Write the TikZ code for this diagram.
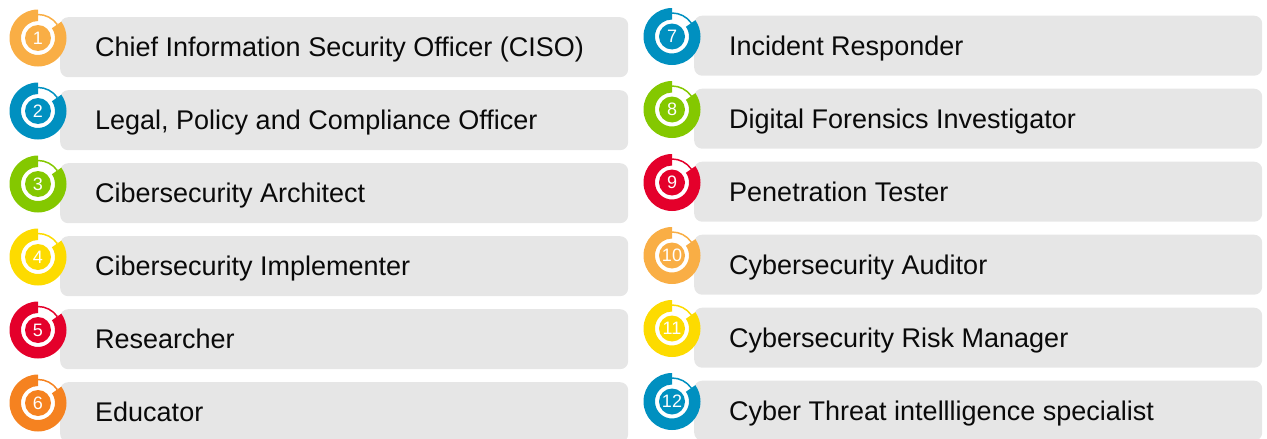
\documentclass[tikz,border=0pt]{standalone}
\usepackage{fontspec}
\setmainfont{Liberation Sans}
\usetikzlibrary{calc}
\definecolor{ringOrangeLight}{HTML}{F9AE45}
\definecolor{ringBlue}{HTML}{0090C0}
\definecolor{ringGreen}{HTML}{84C800}
\definecolor{ringYellow}{HTML}{FDDB00}
\definecolor{ringRed}{HTML}{E4002B}
\definecolor{ringOrange}{HTML}{F58220}
\definecolor{boxGray}{HTML}{E6E6E6}
\definecolor{textDark}{HTML}{0A0A0A}
\newcommand\roleitem[6]{%
  \coordinate (c#1) at (#2,-#3);
  \node[rolebox, anchor=north west] (b#1) at ($(c#1)+(22,21)$) {};
  \node[roletext, anchor=base west] (t#1) at ($(b#1.west)+(35,-9.7)$) {#6};
  \fill[#4] (c#1) ++(90:28.5) arc[start angle=90,end angle=395,radius=28.5]
     -- ++(215:11.5) arc[start angle=395,end angle=90,radius=17] -- cycle;
  \draw[#4, line width=1.5pt] (c#1) ++(90:23.5) arc[start angle=90,end angle=35,radius=23.5];
  \node[numdisk, fill=#4] (n#1) at (c#1) {#5};
}
\begin{document}
\begin{tikzpicture}[x=1pt,y=1pt,
  numdisk/.style={circle, minimum size=26pt, inner sep=0pt, text=white,
     font=\fontsize{18}{18}\selectfont},
  rolebox/.style={fill=boxGray, rounded corners=8pt, minimum width=568pt,
     minimum height=60pt, inner sep=0pt},
  roletext/.style={text=textDark, inner sep=0pt, font=\fontsize{27}{32}\selectfont}]
\useasboundingbox (0,0) rectangle (1267,-439);
\roleitem{1}{38}{38}{ringOrangeLight}{1}{Chief Information Security Officer (CISO)}
\roleitem{2}{38}{111}{ringBlue}{2}{Legal, Policy and Compliance Officer}
\roleitem{3}{38}{184}{ringGreen}{3}{Cibersecurity Architect}
\roleitem{4}{38}{257}{ringYellow}{4}{Cibersecurity Implementer}
\roleitem{5}{38}{330}{ringRed}{5}{Researcher}
\roleitem{6}{38}{403}{ringOrange}{6}{Educator}
\roleitem{7}{672}{36.5}{ringBlue}{7}{Incident Responder}
\roleitem{8}{672}{109.5}{ringGreen}{8}{Digital Forensics Investigator}
\roleitem{9}{672}{182.5}{ringRed}{9}{Penetration Tester}
\roleitem{10}{672}{255.5}{ringOrangeLight}{10}{Cybersecurity Auditor}
\roleitem{11}{672}{328.5}{ringYellow}{11}{Cybersecurity Risk Manager}
\roleitem{12}{672}{401.5}{ringBlue}{12}{Cyber Threat intellligence specialist}
\end{tikzpicture}
\end{document}
